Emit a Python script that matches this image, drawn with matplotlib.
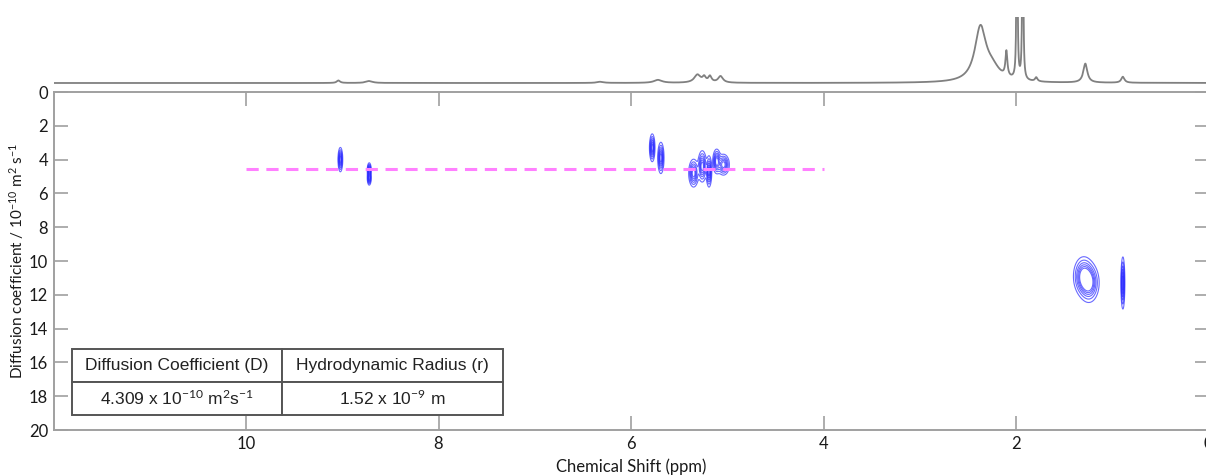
import numpy as np
import matplotlib
matplotlib.use('Agg')
import matplotlib.pyplot as plt

# 1D proton spectrum peaks: position (ppm), height, half width (ppm)
peak_ppm = [9.04, 8.72, 6.32, 5.72, 5.31, 5.24, 5.18, 5.07, 2.37, 2.25, 2.10, 1.99, 1.93, 1.79, 1.28, 0.89]
peak_height = [2.5, 2.0, 1.2, 3.0, 8.0, 5.0, 6.0, 6.5, 53.0, 12.0, 25.0, 400.0, 400.0, 4.0, 19.0, 6.0]
peak_width = [0.02, 0.04, 0.04, 0.05, 0.04, 0.02, 0.02, 0.03, 0.07, 0.10, 0.012, 0.004, 0.004, 0.015, 0.025, 0.02]

# DOSY cross peaks: ppm, diffusion coefficient (1e-10 m2/s), widths
dosy_ppm = [9.02, 8.72, 8.72, 5.78, 5.69, 5.35, 5.26, 5.19, 5.11, 5.04, 1.30, 1.24, 0.89]
dosy_D = [4.0, 4.6, 5.1, 3.3, 3.9, 4.8, 4.4, 4.7, 4.1, 4.3, 10.9, 11.3, 11.3]
dosy_sppm = [0.012, 0.010, 0.010, 0.014, 0.016, 0.025, 0.022, 0.014, 0.02, 0.03, 0.05, 0.05, 0.010]
dosy_sD = [0.35, 0.2, 0.2, 0.4, 0.45, 0.4, 0.45, 0.45, 0.35, 0.3, 0.55, 0.55, 0.75]

# fitted diffusion line
fit_D = 4.57
fit_ppm = [10, 4]

xticks = [10, 8, 6, 4, 2, 0]
yticks = list(range(0, 21, 2))

table_cols = ['Diffusion Coefficient (D)', 'Hydrodynamic Radius (r)']
table_vals = [r'4.309 x 10$^{-10}$ m$^{2}$s$^{-1}$', r'1.52 x 10$^{-9}$ m']

plt.rcParams['font.family'] = ['Lato', 'DejaVu Sans']
plt.rcParams['mathtext.fontset'] = 'custom'
plt.rcParams['mathtext.rm'] = 'Lato'
plt.rcParams['mathtext.it'] = 'Lato:italic'

fig = plt.figure(figsize=(12.06, 4.75), dpi=100)
ax = fig.add_axes([0.0444, 0.0947, 0.9577, 0.7116])
ax1d = fig.add_axes([0.0444, 0.8063, 0.9577, 0.158], sharex=ax)

# 1D projection on top
x = np.linspace(0, 12, 12001)
spec = np.zeros_like(x)
for p, h, w in zip(peak_ppm, peak_height, peak_width):
    spec += h / (1 + ((x - p) / w) ** 2)
ax1d.plot(x, spec, color='#808080', lw=1.3)
ax1d.set_ylim(-9, 66)
ax1d.axis('off')

# 2D DOSY contours
gx = np.linspace(0, 12, 3000)
gy = np.linspace(0, 20, 600)
X, Y = np.meshgrid(gx, gy)
Z = np.zeros_like(X)
for p, d, sp, sd in zip(dosy_ppm, dosy_D, dosy_sppm, dosy_sD):
    Z += np.exp(-0.5 * ((X - p) / sp) ** 2 - 0.5 * ((Y - d) / sd) ** 2)
ax.contour(X, Y, Z, levels=[0.12, 0.25, 0.4, 0.55, 0.7, 0.85],
           colors='#2a2aff', linewidths=0.8, alpha=0.7)

ax.hlines(fit_D, fit_ppm[0], fit_ppm[1], colors='#ff80ff', lw=2.2,
          linestyles=(0, (4, 2.5)))

ax.set_xlim(12, 0)
ax.set_ylim(20, 0)
ax.set_xticks(xticks)
ax.set_yticks(yticks)
ax.tick_params(direction='in', length=10, width=1.2, color='#a0a0a0',
               labelsize=12, labelcolor='#1a1a1a', top=True, right=True, pad=4)
for s in ax.spines.values():
    s.set_color('#a0a0a0')
    s.set_linewidth(1.4)
ax.set_xlabel('Chemical Shift (ppm)', fontsize=12, color='#1a1a1a', labelpad=5)
ax.set_ylabel(r'Diffusion coefficient / 10$^{-10}$ m$^{2}$ s$^{-1}$', fontsize=11,
              color='#1a1a1a', labelpad=2)

# results table
tb = ax.table(cellText=[table_vals], colLabels=table_cols, cellLoc='center',
              bbox=[0.016, 0.044, 0.373, 0.196], colWidths=[0.487, 0.513])
tb.auto_set_font_size(False)
for (r, c), cell in tb.get_celld().items():
    cell.set_edgecolor('#555555')
    cell.set_linewidth(1.4)
    cell.set_facecolor('white')
    cell.get_text().set_fontsize(12.5)
    cell.get_text().set_fontfamily(['Liberation Sans', 'DejaVu Sans'])
    cell.get_text().set_color('#222222')

fig.savefig('out.png', dpi=100)
